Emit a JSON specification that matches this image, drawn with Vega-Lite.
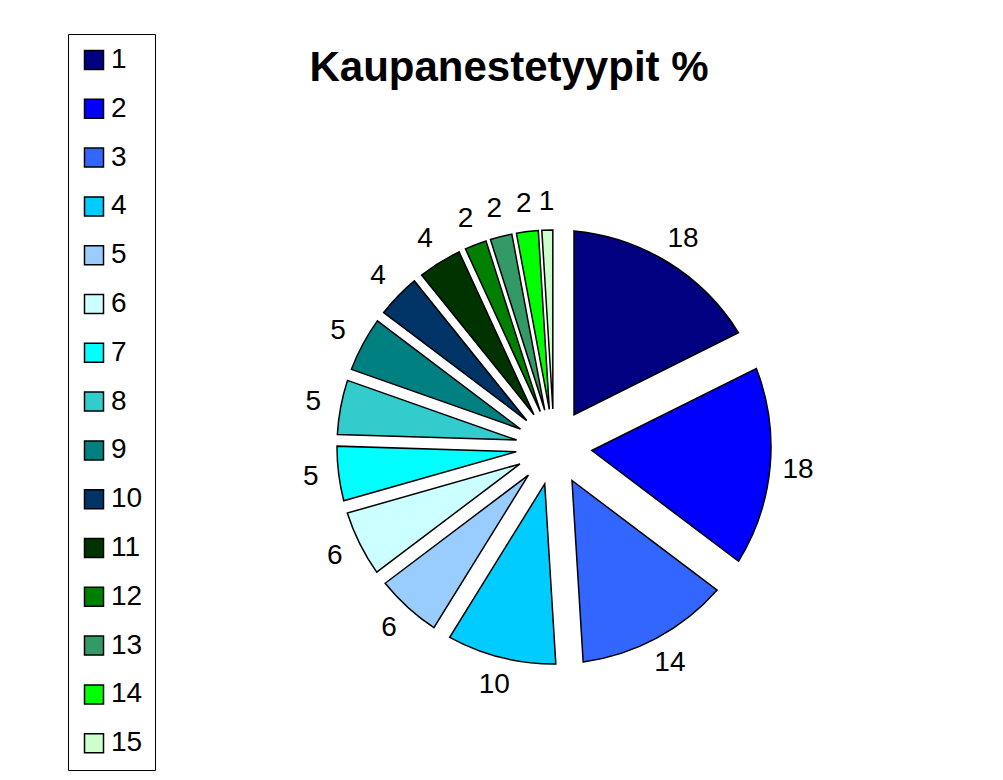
{
  "$schema": "https://vega.github.io/schema/vega-lite/v6.json",
  "width": 800,
  "height": 600,
  "autosize": "none",
  "padding": {"left": 154, "top": 147, "right": 49, "bottom": 33},
  "background": "white",
  "title": {
    "text": "Kaupanestetyypit %",
    "font": "Liberation Sans",
    "fontSize": 42,
    "fontWeight": "bold",
    "color": "black",
    "anchor": "middle",
    "dx": -45,
    "dy": 60
  },
  "data": {
    "values": [
      {"id": 1, "value": 18},
      {"id": 2, "value": 18},
      {"id": 3, "value": 14},
      {"id": 4, "value": 10},
      {"id": 5, "value": 6},
      {"id": 6, "value": 6},
      {"id": 7, "value": 5},
      {"id": 8, "value": 5},
      {"id": 9, "value": 5},
      {"id": 10, "value": 4},
      {"id": 11, "value": 4},
      {"id": 12, "value": 2},
      {"id": 13, "value": 2},
      {"id": 14, "value": 2},
      {"id": 15, "value": 1}
    ]
  },
  "encoding": {
    "theta": {"field": "value", "type": "quantitative", "stack": true},
    "order": {"field": "id", "type": "quantitative"}
  },
  "layer": [
    {
      "mark": {
        "type": "arc",
        "innerRadius": 38,
        "outerRadius": 217,
        "padAngle": {"expr": "2*asin(38*sin(datum.value/102*PI)/220.3)"},
        "stroke": "black",
        "strokeWidth": 1.5
      },
      "encoding": {
        "color": {
          "field": "id",
          "type": "ordinal",
          "scale": {
            "domain": [1, 2, 3, 4, 5, 6, 7, 8, 9, 10, 11, 12, 13, 14, 15],
            "range": ["#000080", "#0000FF", "#3366FF", "#00CCFF", "#99CCFF", "#CCFFFF", "#00FFFF", "#33CCCC", "#008080", "#003366", "#003300", "#008000", "#339966", "#00FF00", "#CCFFCC"]
          },
          "legend": {
            "orient": "none",
            "legendX": -86,
            "legendY": -113,
            "title": null,
            "symbolType": "square",
            "symbolSize": 361,
            "symbolStrokeColor": "black",
            "symbolStrokeWidth": 1.5,
            "symbolOpacity": 1,
            "labelFont": "Liberation Sans",
            "labelFontSize": 28,
            "labelColor": "black",
            "labelOffset": 3,
            "rowPadding": 20.8,
            "padding": 12,
            "strokeColor": "black",
            "fillColor": "white"
          }
        }
      }
    },
    {
      "mark": {
        "type": "text",
        "radius": 245,
        "font": "Liberation Sans",
        "fontSize": 28,
        "color": "black",
        "align": "center",
        "baseline": "middle"
      },
      "encoding": {
        "text": {"field": "value", "type": "quantitative"}
      }
    }
  ],
  "config": {"view": {"stroke": null}}
}
